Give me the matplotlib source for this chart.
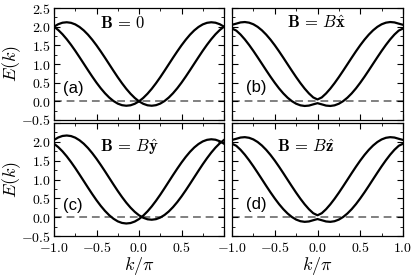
import matplotlib
matplotlib.use("Agg")
import matplotlib.pyplot as plt
from matplotlib.ticker import MultipleLocator, FixedLocator, FixedFormatter

plt.rcParams['mathtext.fontset'] = 'cm'

# k / pi grid
k = [-1.00, -0.95, -0.90, -0.85, -0.80, -0.75, -0.70, -0.65, -0.60, -0.55,
     -0.50, -0.45, -0.40, -0.35, -0.30, -0.25, -0.20, -0.15, -0.10, -0.05,
     0.00, 0.05, 0.10, 0.15, 0.20, 0.25, 0.30, 0.35, 0.40, 0.45,
     0.50, 0.55, 0.60, 0.65, 0.70, 0.75, 0.80, 0.85, 0.90, 0.95, 1.00]

# (a) B = 0
a_band1 = [2.000, 1.910, 1.797, 1.664, 1.515, 1.354, 1.183, 1.009, 0.834, 0.663,
           0.500, 0.350, 0.216, 0.101, 0.008, -0.061, -0.103, -0.118, -0.106, -0.066,
           0.000, 0.091, 0.204, 0.336, 0.485, 0.646, 0.817, 0.992, 1.167, 1.337,
           1.500, 1.650, 1.785, 1.900, 1.992, 2.061, 2.103, 2.118, 2.106, 2.066, 2.000]
a_band2 = [2.000, 2.066, 2.106, 2.118, 2.103, 2.061, 1.992, 1.900, 1.785, 1.650,
           1.500, 1.337, 1.167, 0.992, 0.817, 0.646, 0.485, 0.336, 0.204, 0.091,
           0.000, -0.066, -0.106, -0.118, -0.103, -0.061, 0.008, 0.101, 0.216, 0.350,
           0.500, 0.663, 0.834, 1.009, 1.183, 1.354, 1.515, 1.664, 1.797, 1.910, 2.000]

# (b) B along x  (gapped at k=0)
b_upper = [2.050, 2.081, 2.114, 2.124, 2.107, 2.064, 1.995, 1.902, 1.787, 1.653,
           1.503, 1.340, 1.169, 0.994, 0.820, 0.650, 0.489, 0.341, 0.211, 0.105,
           0.050, 0.105, 0.211, 0.341, 0.489, 0.650, 0.820, 0.994, 1.169, 1.340,
           1.503, 1.653, 1.787, 1.902, 1.995, 2.064, 2.107, 2.124, 2.114, 2.081, 2.050]
b_lower = [1.950, 1.895, 1.789, 1.659, 1.511, 1.350, 1.180, 1.006, 0.831, 0.660,
           0.498, 0.347, 0.213, 0.098, 0.005, -0.064, -0.107, -0.124, -0.114, -0.081,
           -0.050, -0.081, -0.114, -0.124, -0.107, -0.064, 0.005, 0.098, 0.213, 0.347,
           0.498, 0.660, 0.831, 1.006, 1.180, 1.350, 1.511, 1.659, 1.789, 1.895, 1.950]

# (c) B along y  (bands shifted)
c_band1 = [1.950, 1.860, 1.747, 1.614, 1.465, 1.304, 1.133, 0.959, 0.784, 0.613,
           0.450, 0.300, 0.166, 0.051, -0.042, -0.111, -0.153, -0.168, -0.156, -0.116,
           -0.050, 0.041, 0.154, 0.286, 0.435, 0.596, 0.767, 0.942, 1.117, 1.287,
           1.450, 1.600, 1.735, 1.850, 1.942, 2.011, 2.053, 2.068, 2.056, 2.016, 1.950]
c_band2 = [2.050, 2.116, 2.156, 2.168, 2.153, 2.111, 2.042, 1.950, 1.835, 1.700,
           1.550, 1.387, 1.217, 1.042, 0.867, 0.696, 0.535, 0.386, 0.254, 0.141,
           0.050, -0.016, -0.056, -0.068, -0.053, -0.011, 0.058, 0.151, 0.266, 0.400,
           0.550, 0.713, 0.884, 1.059, 1.233, 1.404, 1.565, 1.714, 1.847, 1.960, 2.050]

# (d) B along z  (gapped at k=0)
d_upper = b_upper
d_lower = b_lower

panels = [
    (a_band1, a_band2, r'$\mathbf{B}\,=\,0$', '(a)'),
    (b_upper, b_lower, r'$\mathbf{B}\,=\,B\hat{\mathbf{x}}$', '(b)'),
    (c_band1, c_band2, r'$\mathbf{B}\,=\,B\hat{\mathbf{y}}$', '(c)'),
    (d_upper, d_lower, r'$\mathbf{B}\,=\,B\hat{\mathbf{z}}$', '(d)'),
]

xticks = [-1.0, -0.5, 0.0, 0.5, 1.0]
yticks = [-0.5, 0.0, 0.5, 1.0, 1.5, 2.0, 2.5]

W, H = 415, 277
fig = plt.figure(figsize=(W / 100, H / 100), dpi=100)

# pixel boxes: (left, top, right, bottom)
boxes = [(54, 8, 224, 120), (232, 8, 403, 120),
         (54, 123, 224, 236), (232, 123, 403, 236)]
title_pos = [(-0.46, 1.97), (-0.36, 1.97), (-0.46, 1.72), (-0.47, 1.73)]
lab_pos = [(-0.89, 0.23), (-0.84, 0.24), (-0.90, 0.19), (-0.84, 0.21)]

def fmt(v):
    return r'$%.1f$' % v

for i, (box, (e1, e2, title, lab)) in enumerate(zip(boxes, panels)):
    l, t, r, b = box
    ax = fig.add_axes([l / W, 1 - b / H, (r - l) / W, (b - t) / H])
    ax.axhline(0, color='0.5', lw=1.4, ls=(0, (4, 2.5)), zorder=1)
    ax.plot(k, e1, color='black', lw=1.6, zorder=2)
    ax.plot(k, e2, color='black', lw=1.6, zorder=2)
    ax.set_xlim(-1, 1)
    ax.set_ylim(-0.5, 2.5)
    ax.xaxis.set_major_locator(FixedLocator(xticks))
    ax.yaxis.set_major_locator(FixedLocator(yticks))
    ax.xaxis.set_minor_locator(MultipleLocator(0.25))
    ax.yaxis.set_minor_locator(MultipleLocator(0.25))
    ax.tick_params(which='both', direction='in', top=True, right=True,
                   labelsize=10)
    ax.tick_params(axis='x', pad=3.5)
    ax.tick_params(axis='y', pad=2)
    ax.tick_params(which='major', length=4, width=0.8)
    ax.tick_params(which='minor', length=2, width=0.6)
    row, col = divmod(i, 2)
    if row == 1:
        xl = [fmt(v) if (col == 1 or v < 0.9) else '' for v in xticks]
        ax.xaxis.set_major_formatter(FixedFormatter(xl))
        ax.set_xlabel(r'$k/\pi$', fontsize=13)
        ax.xaxis.set_label_coords(0.5, (b - 255) / (b - t))
    else:
        ax.set_xticklabels([])
    if col == 0:
        yl = [fmt(v) if (row == 0 or v < 2.4) else '' for v in yticks]
        ax.yaxis.set_major_formatter(FixedFormatter(yl))
        ax.set_ylabel(r'$E(k)$', fontsize=13)
        ax.yaxis.set_label_coords((23 - l) / (r - l), 0.5)
    else:
        ax.set_yticklabels([])
    tx, ty = title_pos[i]
    ax.text(tx, ty, title, fontsize=12, ha='left', va='baseline')
    lx, ly = lab_pos[i]
    ax.text(lx, ly, lab, fontsize=12, ha='left', va='baseline',
            family='Liberation Sans')
    for s in ax.spines.values():
        s.set_linewidth(0.9)

fig.savefig('out.png', dpi=100)
